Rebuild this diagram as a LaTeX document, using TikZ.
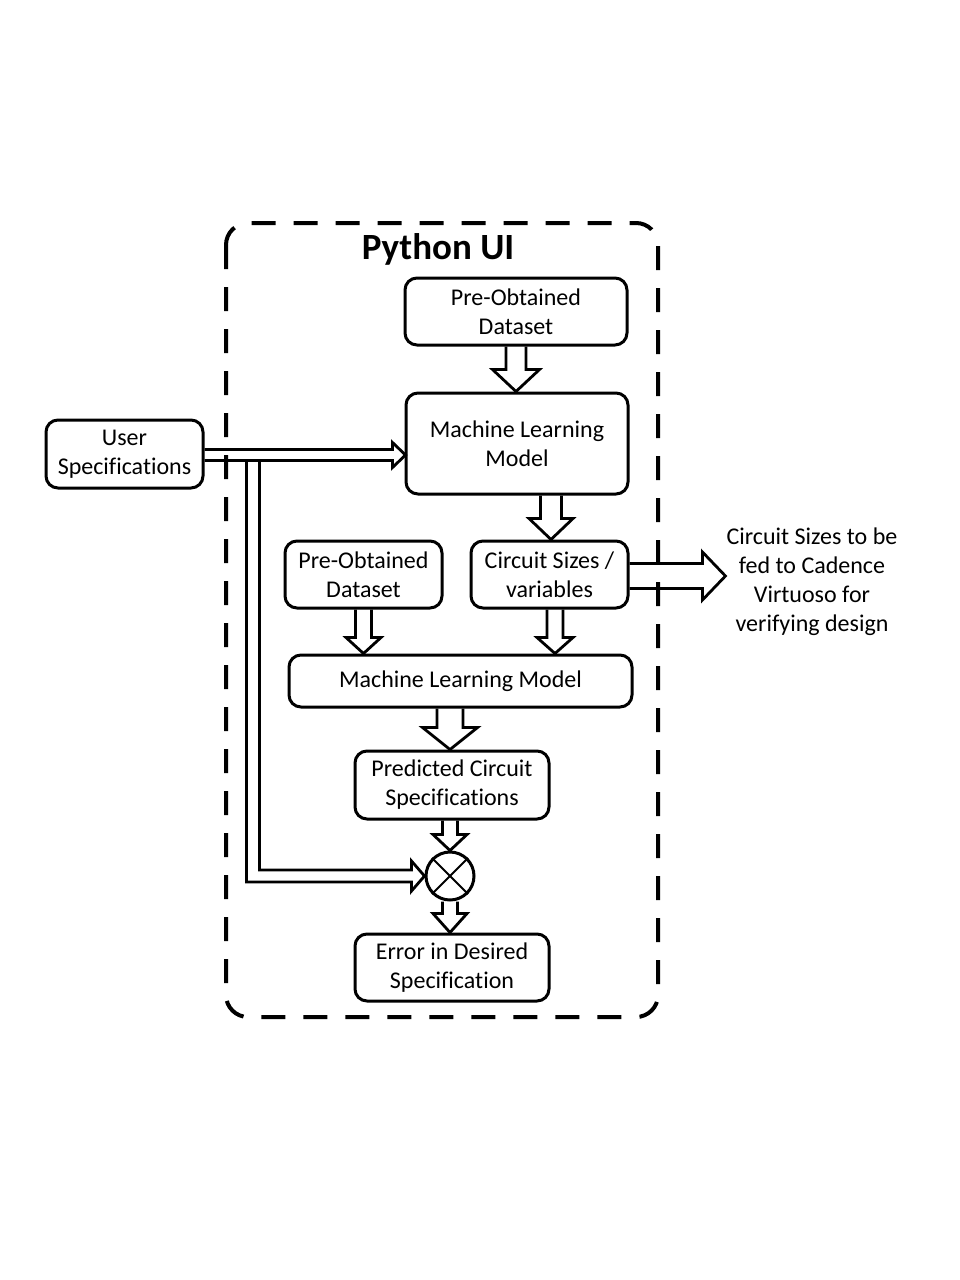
\documentclass[tikz,border=0pt]{standalone}
\usepackage{fontspec}
\setmainfont{Carlito}[Ligatures=NoCommon]
\usetikzlibrary{calc}
\tikzset{
  boxstyle/.style={draw, line width=3pt, rounded corners=12pt, inner sep=0pt, align=center,
    font=\fontsize{24}{29}\selectfont},
  harrow/.style={draw, line width=2.8pt, line join=miter},
}
% hollow block arrow pointing down: #1 start coordinate, #2 coordinate giving tip y,
% #3 half shaft width, #4 half head width, #5 head length
\newcommand\hdown[5]{%
  \coordinate (tmpT) at (#1 |- #2);
  \draw[harrow] ($(#1)+(-#3,0)$) -- ($(tmpT)+(-#3,-#5)$) -- ($(tmpT)+(-#4,-#5)$) -- (tmpT)
    -- ($(tmpT)+(#4,-#5)$) -- ($(tmpT)+(#3,-#5)$) -- ($(#1)+(#3,0)$);}
\begin{document}
\begin{tikzpicture}[x=1pt,y=-1pt]
\useasboundingbox (0,0) rectangle (960,1280);
\fill[white] (0,0) rectangle (960,1280);

% dashed frame
\draw[line width=4pt, dash pattern=on 24pt off 18pt, rounded corners=22pt]
  (226,223) rectangle (658,1017);
\node[font=\fontsize{37}{41}\selectfont\bfseries] (title) at (438,249) {Python UI};

% boxes
\node[boxstyle, minimum width=222pt, minimum height=67pt] (b1) at (516,311.5) {Pre-Obtained\\Dataset};
\node[boxstyle, minimum width=222pt, minimum height=101pt] (b2) at (517,443.5) {Machine Learning\\Model};
\node[boxstyle, minimum width=157pt, minimum height=68pt] (u) at (124.5,454) {User\\Specifications};
\node[boxstyle, minimum width=157pt, minimum height=67pt] (b3) at (363.5,574.5) {Pre-Obtained\\Dataset};
\node[boxstyle, minimum width=157pt, minimum height=67pt] (b4) at (549.5,574.5) {Circuit Sizes /\\variables};
\node[boxstyle, minimum width=343pt, minimum height=52pt] (b5) at (460.5,681) {Machine Learning Model};
\node[boxstyle, minimum width=194pt, minimum height=68pt] (b6) at (452,785) {Predicted Circuit\\Specifications};
\node[boxstyle, minimum width=194pt, minimum height=67pt] (b7) at (452,967.5) {Error in Desired\\Specification};
\node[draw, circle, line width=3pt, minimum size=48pt, inner sep=0pt] (c) at (450,876) {};
\draw[line width=2pt] (c.north west) -- (c.south east);
\draw[line width=2pt] (c.north east) -- (c.south west);

\node[align=center, inner sep=0pt, font=\fontsize{24}{29}\selectfont] (rt) at (812,581.5)
  {Circuit Sizes to be\\fed to Cadence\\Virtuoso for\\verifying design};

% vertical hollow arrows
\coordinate (s12) at (b1.south);
\hdown{s12}{b2.north}{10}{23.5}{22}
\coordinate (s24) at ($(b4.north |- b2.south)+(1.5,0)$);
\hdown{s24}{b4.north}{10.5}{22}{21}
\coordinate (s35) at (b3.south);
\hdown{s35}{b5.north}{8}{17.5}{16}
\coordinate (s45) at ($(b4.south)+(5.5,0)$);
\hdown{s45}{b5.north}{8}{18}{16}
\coordinate (s56) at ($(b6.north |- b5.south)+(-2,0)$);
\hdown{s56}{b6.north}{13}{27.5}{22}
\coordinate (s6c) at (c.north |- b6.south);
\hdown{s6c}{c.north}{7.5}{17}{16}
\coordinate (sc7) at (c.south);
\hdown{sc7}{b7.north}{7.5}{17}{19}

% user specifications -> ML model
\coordinate (tipU) at ($(b2.west |- u.east)+(1,1)$);
\coordinate (uE) at ($(u.east)+(0,1)$);
\draw[harrow] ($(uE)+(0,-5.5)$) -- ($(tipU)+(-13,-5.5)$) -- ($(tipU)+(-13,-12.5)$) -- (tipU)
  -- ($(tipU)+(-13,12.5)$) -- ($(tipU)+(-13,5.5)$) -- ($(uE)+(0,5.5)$);
% branch down to the comparator
\coordinate (tipC) at (c.west);
\draw[harrow] ($(uE)+(42,5.5)$) |- ($(tipC)+(-13,6)$) -- ($(tipC)+(-13,15)$) -- (tipC)
  -- ($(tipC)+(-13,-15)$) -- ($(tipC)+(-13,-6)$) -| ($(uE)+(55,5.5)$);

% circuit sizes -> external text
\coordinate (tipR) at ($(rt.west |- b4.east)+(-1,1.5)$);
\coordinate (rE) at ($(b4.east)+(0,1.5)$);
\draw[harrow] ($(rE)+(0,-12.5)$) -- ($(tipR)+(-23,-12.5)$) -- ($(tipR)+(-23,-24)$) -- (tipR)
  -- ($(tipR)+(-23,24)$) -- ($(tipR)+(-23,12.5)$) -- ($(rE)+(0,12.5)$);
\end{tikzpicture}
\end{document}
